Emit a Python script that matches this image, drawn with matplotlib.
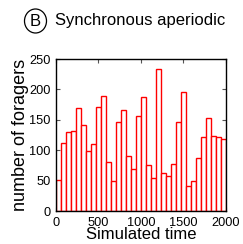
import matplotlib
matplotlib.use("Agg")
import matplotlib.pyplot as plt
import numpy as np
from matplotlib.patches import Ellipse

plt.rcParams['font.family'] = ['Liberation Sans', 'DejaVu Sans']

# number of foragers in each time bin
foragers = [51, 112, 130, 132, 169, 141, 98, 110, 171, 190,
            81, 49, 146, 167, 91, 69, 157, 187, 76, 55,
            233, 62, 57, 78, 147, 195, 42, 49, 88, 121,
            153, 123, 121, 118]
t_max = 2000
x_ticks = [0, 500, 1000, 1500, 2000]
y_ticks = [0, 50, 100, 150, 200, 250]

n = len(foragers)
step = t_max / n
centers = step * (np.arange(n) + 0.5)

W, H = 243, 244
fig = plt.figure(figsize=(W / 100, H / 100), dpi=100)
ax = fig.add_axes([0.23, 0.135, 0.7, 0.623])

ax.bar(centers, foragers, width=step * 0.85, color='white',
       edgecolor='red', linewidth=1.0, zorder=2)

ax.set_xlim(0, t_max)
ax.set_ylim(0, 250)
ax.set_xticks(x_ticks)
ax.set_yticks(y_ticks)
ax.tick_params(direction='in', top=True, right=True, length=3,
               labelsize=9.2, pad=4, color='#555555')
for s in ax.spines.values():
    s.set_linewidth(1.0)
ax.set_xlabel('Simulated time', fontsize=12, labelpad=-1)
ax.set_ylabel('number of foragers', fontsize=13, labelpad=0)

# panel marker and title
fig.patches.append(Ellipse((35.5 / W, 1 - 21 / H), 22 / W, 24 / H,
                           transform=fig.transFigure, fill=False,
                           edgecolor='black', linewidth=0.9))
fig.text(35.5 / W, 1 - 21 / H, 'B', fontsize=12,
         ha='center', va='center')
fig.text(55 / W, 1 - 20 / H, 'Synchronous aperiodic', fontsize=12,
         ha='left', va='center')

fig.savefig('out.png', dpi=100)
